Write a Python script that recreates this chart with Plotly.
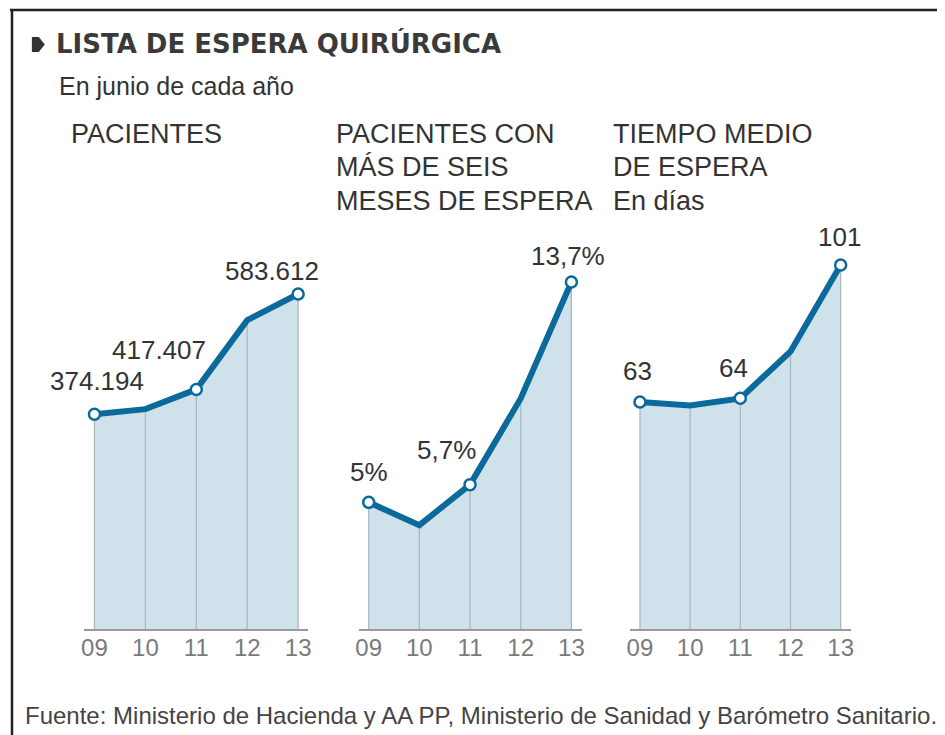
import plotly.graph_objects as go

# ---- data ----
years = ["09", "10", "11", "12", "13"]
pacientes = [374194, 383000, 417407, 538000, 583612]
pct_mas_seis_meses = [5.0, 4.1, 5.7, 9.1, 13.7]
tiempo_medio_dias = [63, 62, 64, 77, 101]
labeled_idx = [0, 2, 4]

title = "LISTA DE ESPERA QUIRÚRGICA"
subtitle = "En junio de cada año"
panel_titles = [
    ["PACIENTES"],
    ["PACIENTES CON", "MÁS DE SEIS", "MESES DE ESPERA"],
    ["TIEMPO MEDIO", "DE ESPERA", "En días"],
]
source = "Fuente: Ministerio de Hacienda y AA PP, Ministerio de Sanidad y Barómetro Sanitario."

# page body has an 8px margin: figure drawn from (8,8) of the window
OFF = 8
W, H = 945 - OFF, 735 - OFF
FONT = "Liberation Sans, Arial, sans-serif"
LINE_C = "#0b6a9b"
FILL_C = "#cfe2eb"
GRID_C = "#a9b5bc"
TXT_C = "#333333"
TICK_C = "#7a7a7a"


def px_x(px):
    return (px - OFF) / W


def px_y(py):
    return 1 - (py - OFF) / H


def fmt_int(v):
    return f"{v:,.0f}".replace(",", ".")


def fmt_pct(v):
    s = f"{v:.1f}".rstrip("0").rstrip(".").replace(".", ",")
    return s + "%"


def fmt_days(v):
    return f"{v:.0f}"


series = [pacientes, pct_mas_seis_meses, tiempo_medio_dias]
formatters = [fmt_int, fmt_pct, fmt_days]
xpos = list(range(len(years)))

# layout geometry (window pixels)
pt_px = [(92, 297), (368, 572), (641, 843)]
base_px, top_px = 629, 229
ymax = [583612 * 400 / 335, 13.7 * 400 / 347, 101 * 400 / 364]
label_offsets = [
    [(3, -33), (-37, -39), (-26, -23)],
    [(0, -30), (-24, -35), (-3, -26)],
    [(-2, -31), (-7, -30), (-1, -28)],
]
title_x = [66, 333, 612]
title_y = [134, 167, 201]

fig = go.Figure()
layout_axes = {}
annotations = []

for k, vals in enumerate(series):
    xa = "x" if k == 0 else f"x{k+1}"
    ya = "y" if k == 0 else f"y{k+1}"
    # fill
    fig.add_trace(go.Scatter(x=xpos, y=vals, mode="lines", line=dict(width=0, color=FILL_C),
                             fill="tozeroy", fillcolor=FILL_C, xaxis=xa, yaxis=ya,
                             hoverinfo="skip", showlegend=False))
    # vertical drop lines
    fig.add_trace(go.Scatter(x=xpos, y=vals, mode="markers", marker=dict(size=1, opacity=0),
                             error_y=dict(type="data", symmetric=False, array=[0] * len(vals),
                                          arrayminus=vals, width=0, thickness=1.2, color=GRID_C),
                             xaxis=xa, yaxis=ya, hoverinfo="skip", showlegend=False))
    # main line
    fig.add_trace(go.Scatter(x=xpos, y=vals, mode="lines", line=dict(width=6, color=LINE_C),
                             xaxis=xa, yaxis=ya, showlegend=False))
    # markers
    fig.add_trace(go.Scatter(x=[xpos[i] for i in labeled_idx], y=[vals[i] for i in labeled_idx],
                             mode="markers",
                             marker=dict(size=11, color="white", line=dict(width=2.5, color=LINE_C)),
                             xaxis=xa, yaxis=ya, showlegend=False, cliponaxis=False))
    # value labels
    for j, i in enumerate(labeled_idx):
        dx, dy = label_offsets[k][j]
        annotations.append(dict(x=xpos[i], y=vals[i], xref=xa, yref=ya, text=formatters[k](vals[i]),
                                showarrow=False, xshift=dx, yshift=-dy,
                                font=dict(family=FONT, size=26, color=TXT_C)))
    # axes
    p0, p4 = pt_px[k]
    sp = (p4 - p0) / 4
    layout_axes["xaxis" if k == 0 else f"xaxis{k+1}"] = dict(
        domain=[px_x(p0 - 0.2 * sp), px_x(p4 + 0.2 * sp)], range=[-0.2, 4.2],
        tickvals=xpos, ticktext=years, showgrid=False, zeroline=False,
        showline=True, linecolor="#9a9a9a", linewidth=1.5, ticks="", anchor=ya,
        ticklabelstandoff=-4,
        tickfont=dict(family=FONT, size=24, color=TICK_C), fixedrange=True)
    layout_axes["yaxis" if k == 0 else f"yaxis{k+1}"] = dict(
        domain=[px_y(base_px), px_y(top_px)], range=[0, ymax[k]], visible=False,
        anchor=xa, fixedrange=True)
    # panel titles
    for li, line in enumerate(panel_titles[k]):
        annotations.append(dict(x=px_x(title_x[k]), y=px_y(title_y[li]), xref="paper", yref="paper",
                                xanchor="left", yanchor="middle", text=line, showarrow=False,
                                font=dict(family=FONT, size=27, color=TXT_C)))

annotations += [
    dict(x=px_x(51), y=px_y(44), xref="paper", yref="paper", xanchor="left", yanchor="middle",
         text=f"<b>{title}</b>", showarrow=False,
         font=dict(family="DejaVu Sans, sans-serif", size=26, color="#3a3a3a")),
    dict(x=px_x(54), y=px_y(86), xref="paper", yref="paper", xanchor="left", yanchor="middle",
         text=subtitle, showarrow=False, font=dict(family=FONT, size=25, color=TXT_C)),
    dict(x=px_x(20), y=px_y(715), xref="paper", yref="paper", xanchor="left", yanchor="middle",
         text=source, showarrow=False, font=dict(family=FONT, size=24, color="#444444")),
]

shapes = [
    dict(type="line", xref="paper", yref="paper", x0=px_x(7), x1=1, y0=px_y(10), y1=px_y(10),
         line=dict(color="#222222", width=2.5)),
    dict(type="line", xref="paper", yref="paper", x0=px_x(9), x1=px_x(9), y0=px_y(9), y1=0,
         line=dict(color="#222222", width=2.5)),
    dict(type="path", xref="paper", yref="paper",
         path=(f"M {px_x(29)},{px_y(37)} L {px_x(36)},{px_y(37)} L {px_x(42)},{px_y(44.5)} "
               f"L {px_x(36)},{px_y(52)} L {px_x(29)},{px_y(52)} Z"),
         fillcolor="#333333", line=dict(width=0)),
]

fig.update_layout(width=W, height=H, margin=dict(l=0, r=0, t=0, b=0), paper_bgcolor="white",
                  plot_bgcolor="rgba(0,0,0,0)", annotations=annotations, shapes=shapes,
                  showlegend=False, **layout_axes)

fig.write_html("out.html")
